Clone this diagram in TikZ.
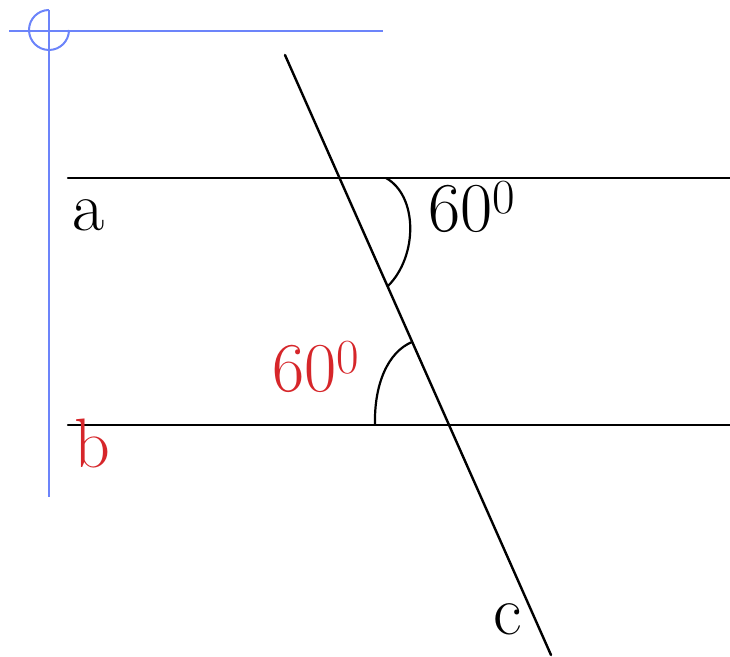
\documentclass[tikz,border=0pt]{standalone}
\usepackage{amsmath,amssymb}
\usetikzlibrary{positioning}
\definecolor{guideblue}{RGB}{108,132,250}
\definecolor{labelred}{RGB}{214,38,42}

\begin{document}
\begin{tikzpicture}[x=0.5pt,y=-0.5pt]
\tikzset{
  guideline/.style={draw=guideblue,line width=1pt},
  figline/.style={draw=black,line width=1.2pt,line cap=round},
  anglearc/.style={draw=black,line width=1.1pt},
  figlabel/.style={inner sep=0pt,anchor=base west,font=\fontsize{35}{40}\selectfont}
}
\useasboundingbox (0,0) rectangle (730,657);
% blue guide corner
\coordinate (g_l) at (9,31);
\coordinate (g_r) at (383,31);
\coordinate (g_t) at (49,10);
\coordinate (g_b) at (49,497);
\draw[guideline] (g_l) -- (g_r);
\draw[guideline] (g_t) -- (g_b);
\draw[guideline] (g_t) arc[start angle=90,end angle=360,radius=10pt];
% lines a, b and the transversal c
\coordinate (a_l) at (68,178);
\coordinate (a_r) at (730,178);
\coordinate (b_l) at (68,425);
\coordinate (b_r) at (730,425);
\coordinate (c_t) at (285,55);
\coordinate (c_b) at (551,655);
\draw[figline] (a_l) -- (a_r);
\draw[figline] (b_l) -- (b_r);
\draw[figline] (c_t) -- (c_b);
% angle marks
\coordinate (u_s) at (386,178);
\coordinate (u_e) at (388,286);
\coordinate (l_s) at (375,425);
\coordinate (l_e) at (412,342);
\draw[anglearc] (u_s) .. controls (418,196) and (418,256) .. (u_e);
\draw[anglearc] (l_s) .. controls (374,384) and (388,352) .. (l_e);
% labels
\node[figlabel] (lab_a) at (72,231) {a};
\node[figlabel,text=labelred] (lab_b) at (74,468) {b};
\node[figlabel] (lab_c) at (493,635) {c};
\node[figlabel] (ang_top) at (428,232) {60\textsuperscript{0}};
\node[figlabel,text=labelred] (ang_bot) at (272,392) {60\textsuperscript{0}};
\end{tikzpicture}
\end{document}
